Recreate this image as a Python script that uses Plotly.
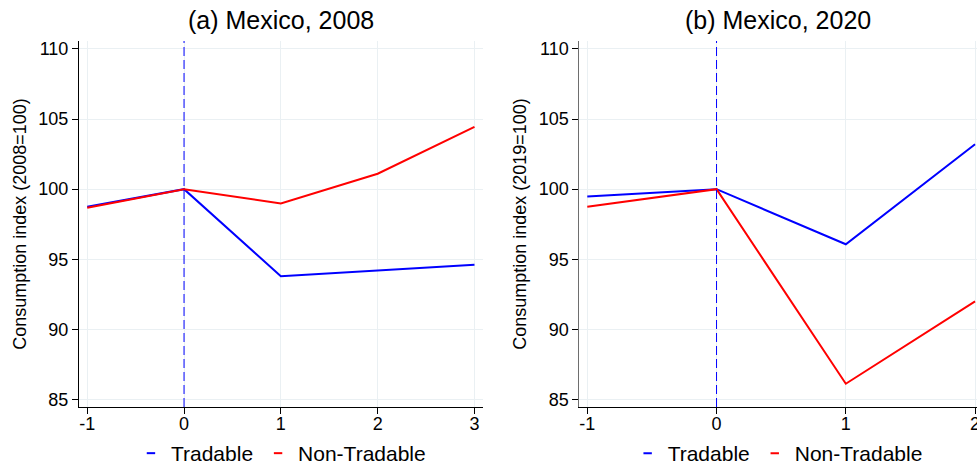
import plotly.graph_objects as go

# ---- data ----
years_a = [-1, 0, 1, 2, 3]
tradable_a = [98.74, 100.0, 93.79, 94.19, 94.60]
nontradable_a = [98.67, 100.0, 98.98, 101.10, 104.45]

years_b = [-1, 0, 1, 2]
tradable_b = [99.48, 100.0, 96.07, 103.21]
nontradable_b = [98.74, 100.0, 86.12, 92.00]

titles = ["(a) Mexico, 2008", "(b) Mexico, 2020"]
ytitles = ["Consumption index (2008=100)", "Consumption index (2019=100)"]
series_names = ["Tradable", "Non-Tradable"]
yticks = [85, 90, 95, 100, 105, 110]
xlabels_a = ["-1", "0", "1", "2", "3"]
xlabels_b = ["-1", "0", "1", "2"]

BLUE = "#0000ff"
RED = "#ff0000"
FONT = "Liberation Sans, Arial, sans-serif"
GRID = "#eaf0f3"

fig = go.Figure()

# panel a
fig.add_trace(go.Scatter(x=years_a, y=tradable_a, mode="lines", line=dict(color=BLUE, width=2),
                         xaxis="x", yaxis="y", showlegend=False, name=series_names[0]))
fig.add_trace(go.Scatter(x=years_a, y=nontradable_a, mode="lines", line=dict(color=RED, width=2),
                         xaxis="x", yaxis="y", showlegend=False, name=series_names[1]))
# panel b
fig.add_trace(go.Scatter(x=years_b, y=tradable_b, mode="lines", line=dict(color=BLUE, width=2),
                         xaxis="x2", yaxis="y2", showlegend=False, name=series_names[0]))
fig.add_trace(go.Scatter(x=years_b, y=nontradable_b, mode="lines", line=dict(color=RED, width=2),
                         xaxis="x2", yaxis="y2", showlegend=False, name=series_names[1]))

# legend entries (short dash symbols)
for lg, xa, ya in [("legend", "x", "y"), ("legend2", "x2", "y2")]:
    for nm, col in zip(series_names, [BLUE, RED]):
        fig.add_trace(go.Scatter(x=[None], y=[None], mode="markers", name=nm, legend=lg,
                                 xaxis=xa, yaxis=ya,
                                 marker=dict(symbol="line-ew", size=6, color=col,
                                             line=dict(color=col, width=2))))

axis_common = dict(showgrid=True, gridcolor=GRID, gridwidth=1, zeroline=False,
                   showline=True, linecolor="black", linewidth=1,
                   ticks="outside", ticklen=6, tickcolor="black",
                   tickfont=dict(family=FONT, size=18, color="black"),
                   automargin=False)

yr = [84.46, 110.57]
fig.update_layout(
    width=977, height=465,
    margin=dict(l=79, r=0, t=41, b=58, autoexpand=False),
    paper_bgcolor="white", plot_bgcolor="white",
    font=dict(family=FONT, color="black"),
    xaxis=dict(domain=[0, 0.4499], range=[-1.085, 3.088], tickvals=years_a, ticktext=xlabels_a,
               anchor="y", ticklabeloverflow="allow", ticklabelstandoff=-6, **axis_common),
    yaxis=dict(domain=[0, 1], range=yr, tickvals=yticks, anchor="x",
               title=dict(text=ytitles[0], font=dict(family=FONT, size=18), standoff=7), **axis_common),
    xaxis2=dict(domain=[0.5571, 1], range=[-1.062, 2.015], tickvals=years_b, ticktext=xlabels_b,
                anchor="y2", ticklabeloverflow="allow", ticklabelstandoff=-6, **axis_common),
    yaxis2=dict(domain=[0, 1], range=yr, tickvals=yticks, anchor="x2",
                title=dict(text=ytitles[1], font=dict(family=FONT, size=18), standoff=7), **axis_common),
    legend=dict(orientation="h", x=0.2249, xanchor="center", y=-0.1831, yanchor="bottom",
                font=dict(family=FONT, size=21), itemwidth=30, bgcolor="rgba(0,0,0,0)",
                borderwidth=0),
    legend2=dict(orientation="h", x=0.778, xanchor="center", y=-0.1831, yanchor="bottom",
                 font=dict(family=FONT, size=21), itemwidth=30, bgcolor="rgba(0,0,0,0)",
                 borderwidth=0),
)
fig.update_yaxes(linecolor="#6e6e6e", selector=dict(anchor="x2"))

# vertical dashed lines at 0
for xr, yd in [("x", "y domain"), ("x2", "y2 domain")]:
    fig.add_shape(type="line", xref=xr, yref=yd, x0=0, x1=0, y0=0, y1=1,
                  line=dict(color=BLUE, width=1, dash="9px,4px"), layer="above")

# subplot titles
for t, xc in zip(titles, [0.2249, 0.778]):
    fig.add_annotation(text=t, xref="paper", yref="paper", x=xc, y=1.057,
                       xanchor="center", yanchor="middle", showarrow=False,
                       font=dict(family=FONT, size=25, color="black"))

fig.write_html("out.html")
